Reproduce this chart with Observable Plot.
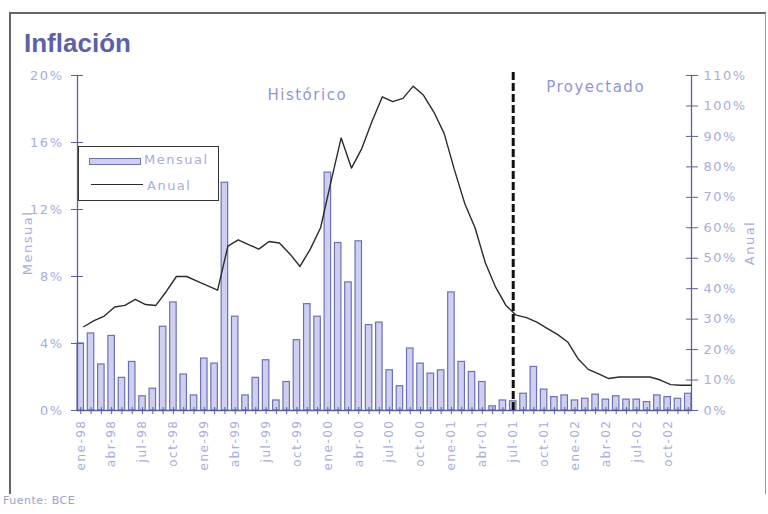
<!DOCTYPE html>
<html>
<head>
<meta charset="utf-8">
<script src="https://cdn.jsdelivr.net/npm/d3@7"></script>
<script src="https://cdn.jsdelivr.net/npm/@observablehq/plot@0.6"></script>
<style>
  body { margin: 0; background: #fff; }
  #wrap { position: relative; width: 768px; height: 514px; overflow: hidden; font-family: "DejaVu Sans", sans-serif; }
  #chart { position: absolute; left: 0; top: 0; }
  #box { position: absolute; left: 9px; top: 12px; width: 754px; height: 480px; border-left: 2px solid #666; border-top: 2px solid #666; border-right: 1px solid #999; }
  #title { position: absolute; left: 24px; top: 28px; font-family: "Liberation Sans", Arial, sans-serif; font-weight: bold; font-size: 26px; color: #5d62a6; }
  #legend { position: absolute; left: 78px; top: 146px; width: 139px; height: 53px; border: 1.5px solid #333; background: #fff; }
  #legend .sw { position: absolute; left: 10px; top: 11px; width: 50px; height: 5px; border: 1.3px solid #6d71b3; background: #cdd0f0; }
  #legend .ln { position: absolute; left: 12px; top: 37px; width: 52px; height: 0; border-top: 1.5px solid #2b2b2b; }
  #legend .t1 { position: absolute; left: 65px; top: 5px; font-size: 13px; color: #a8acd8; letter-spacing: 1.5px; }
  #legend .t2 { position: absolute; left: 68px; top: 31px; font-size: 13px; color: #a8acd8; letter-spacing: 1.5px; }
  #source { position: absolute; left: 3px; top: 494px; font-size: 11px; color: #9ca1cf; letter-spacing: 0.5px; }
</style>
</head>
<body>
<div id="wrap">
  <div id="box"></div>
  <div id="chart"></div>
  <div id="title">Inflación</div>
  <div id="legend">
    <div class="sw"></div><div class="t1">Mensual</div>
    <div class="ln"></div><div class="t2">Anual</div>
  </div>
  <div id="source">Fuente: BCE</div>
</div>
<script>
const meses = [
  "ene-98","feb-98","mar-98","abr-98","may-98","jun-98","jul-98","ago-98","sep-98","oct-98","nov-98","dic-98",
  "ene-99","feb-99","mar-99","abr-99","may-99","jun-99","jul-99","ago-99","sep-99","oct-99","nov-99","dic-99",
  "ene-00","feb-00","mar-00","abr-00","may-00","jun-00","jul-00","ago-00","sep-00","oct-00","nov-00","dic-00",
  "ene-01","feb-01","mar-01","abr-01","may-01","jun-01","jul-01","ago-01","sep-01","oct-01","nov-01","dic-01",
  "ene-02","feb-02","mar-02","abr-02","may-02","jun-02","jul-02","ago-02","sep-02","oct-02","nov-02","dic-02"
];
// Inflación mensual (%)
const mensual = [
  4.0, 4.6, 2.75, 4.45, 1.95, 2.9, 0.85, 1.3, 5.0, 6.45, 2.15, 0.9,
  3.1, 2.8, 13.6, 5.6, 0.9, 1.95, 3.0, 0.6, 1.7, 4.2, 6.35, 5.6,
  14.2, 10.0, 7.65, 10.1, 5.1, 5.25, 2.4, 1.45, 3.7, 2.8, 2.2, 2.4,
  7.05, 2.9, 2.3, 1.7, 0.25, 0.6, 0.55, 1.0, 2.6, 1.25, 0.8, 0.9,
  0.6, 0.7, 0.95, 0.65, 0.85, 0.65, 0.65, 0.5, 0.9, 0.8, 0.7, 1.0
];
// Inflación anual (%)
const anual = [
  27.5, 29.5, 31, 34, 34.5, 36.5, 34.8, 34.5, 39, 44, 44, 42.5,
  41, 39.5, 54, 56, 54.5, 53, 55.5, 55, 51.5, 47.3, 53, 60,
  75, 89.5, 79.6, 86, 95, 103, 101.4, 102.5, 106.5, 103.5, 98, 91,
  79, 68, 60, 48.5, 40.5, 34.5, 31.3, 30.5, 29, 27, 25, 22.5,
  17, 13.5, 12, 10.5, 11, 11, 11, 11, 10, 8.5, 8.3, 8.3
];
const ticksMensual = [0, 4, 8, 12, 16, 20];
const ticksAnual = [0, 10, 20, 30, 40, 50, 60, 70, 80, 90, 100, 110];
const etiquetasX = ["ene-98","abr-98","jul-98","oct-98","ene-99","abr-99","jul-99","oct-99","ene-00","abr-00",
  "jul-00","oct-00","ene-01","abr-01","jul-01","oct-01","ene-02","abr-02","jul-02","oct-02"];
const corte = ["jul-01"];
const anotaciones = [
  {texto: "Histórico", mes: "nov-99", valor: 18.8},
  {texto: "Proyectado", mes: "mar-02", valor: 19.3}
];

const maxMensual = 20, maxAnual = 110;
const k = maxMensual / maxAnual;
const data = meses.map((m, i) => ({mes: m, mensual: mensual[i], anual: anual[i]}));

const axisColor = "#5d6196";
const labelColor = "#a9addb";

const chart = Plot.plot({
  width: 768, height: 514,
  marginLeft: 77, marginRight: 77, marginTop: 75, marginBottom: 104,
  style: {fontFamily: "DejaVu Sans, sans-serif", background: "transparent", letterSpacing: "1.5px"},
  x: {type: "band", domain: meses, paddingInner: 0.37, paddingOuter: 0, round: false},
  y: {domain: [0, maxMensual]},
  marks: [
    Plot.barY(data, {x: "mes", y: "mensual", fill: "#cdd0f0", stroke: "#6d71b3", strokeWidth: 1.2}),
    Plot.frame({anchor: "left", stroke: axisColor, strokeWidth: 1.3}),
    Plot.frame({anchor: "right", stroke: axisColor, strokeWidth: 1.3}),
    Plot.ruleY([0], {stroke: "#5a5fa0", strokeWidth: 1.6}),
    Plot.axisX({tickSize: 7, dy: -3, tickFormat: () => "", stroke: axisColor, label: null}),
    Plot.axisX({tickSize: 4, tickPadding: 5, tickRotate: -90, tickFormat: d => etiquetasX.includes(d) ? d : "",
      fill: labelColor, fontSize: 12, stroke: null, label: null}),
    Plot.line(data, {x: "mes", y: d => d.anual * k, dx: 3, stroke: "#2b2b2b", strokeWidth: 1.4}),
    Plot.ruleX(corte, {y1: 0, y2: 20.2, stroke: "#111", strokeWidth: 3, strokeDasharray: "8,3"}),
    Plot.axisY(ticksMensual, {anchor: "left", tickSize: 12, dx: 6, tickFormat: () => "", stroke: axisColor, label: null}),
    Plot.axisY(ticksMensual, {anchor: "left", tickSize: 0, tickPadding: 14, tickFormat: d => d + "%",
      fill: labelColor, fontSize: 13, label: "Mensual", labelArrow: "none", labelAnchor: "center", labelOffset: 55}),
    Plot.axisY(ticksAnual.map(v => v * k), {anchor: "right", tickSize: 12, dx: -6, tickFormat: () => "", stroke: axisColor, label: null}),
    Plot.axisY(ticksAnual.map(v => v * k), {anchor: "right", tickSize: 0, tickPadding: 12,
      tickFormat: d => Math.round(d / k) + "%", fill: labelColor, fontSize: 13,
      label: "Anual", labelArrow: "none", labelAnchor: "center", labelOffset: 62}),
    Plot.text(anotaciones, {x: "mes", y: "valor", text: "texto", fill: "#9096d4", fontSize: 15})
  ]
});
// remove any automatic arrows from axis labels
d3.select(chart).selectAll("text").each(function() {
  const t = this.textContent;
  if (/[↑↓]/.test(t) && !this.querySelector("tspan")) this.textContent = t.replace(/\s*[↑↓]\s*/g, "");
});
document.getElementById("chart").appendChild(chart);
</script>
</body>
</html>
